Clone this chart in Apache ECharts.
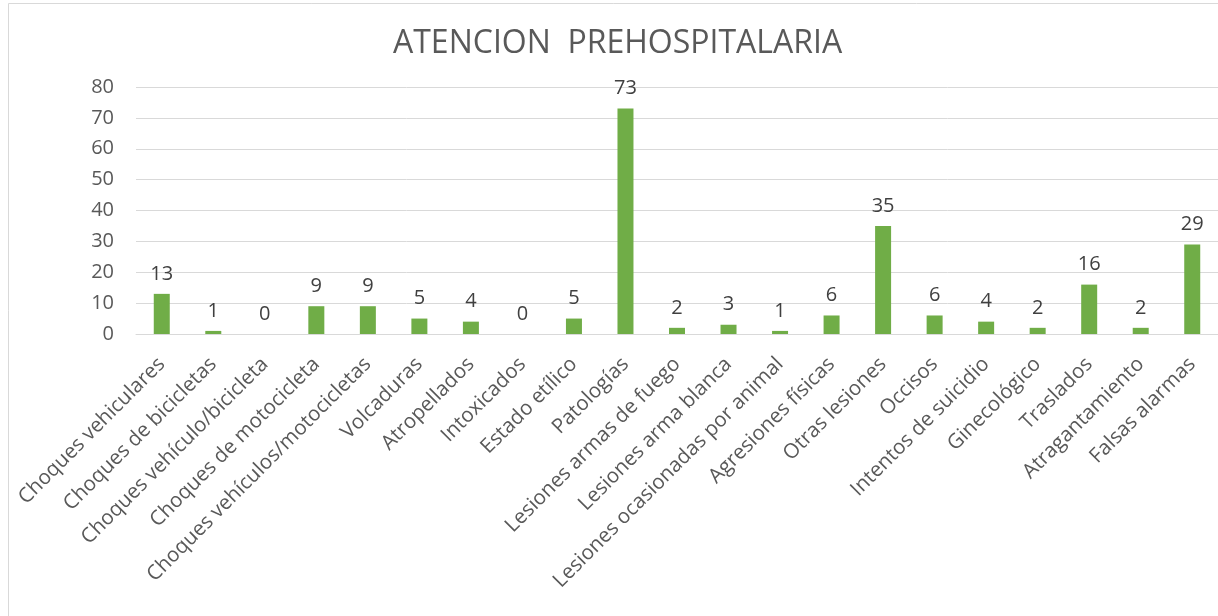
<!DOCTYPE html>
<html>
<head>
<meta charset="utf-8">
<script src="https://cdn.jsdelivr.net/npm/echarts@6/dist/echarts.min.js"></script>
<style>
html,body{margin:0;padding:0;background:#fff;}
#chart{width:1218px;height:616px;}
</style>
</head>
<body>
<div id="chart"></div>
<script>
const titleText = 'ATENCION  PREHOSPITALARIA';
const categories = [
  'Choques vehiculares',
  'Choques de bicicletas',
  'Choques vehículo/bicicleta',
  'Choques de motocicleta',
  'Choques vehículos/motocicletas',
  'Volcaduras',
  'Atropellados',
  'Intoxicados',
  'Estado etílico',
  'Patologías',
  'Lesiones armas de fuego',
  'Lesiones arma blanca',
  'Lesiones ocasionadas por animal',
  'Agresiones físicas',
  'Otras lesiones',
  'Occisos',
  'Intentos de suicidio',
  'Ginecológico',
  'Traslados',
  'Atragantamiento',
  'Falsas alarmas'
];
const values = [13, 1, 0, 9, 9, 5, 4, 0, 5, 73, 2, 3, 1, 6, 35, 6, 4, 2, 16, 2, 29];
const yMin = 0, yMax = 80, yStep = 10;

const FONT = '"Open Sans", "Noto Sans", sans-serif';
const chart = echarts.init(document.getElementById('chart'), null, {renderer: 'canvas'});
chart.setOption({
  animation: false,
  backgroundColor: '#ffffff',
  graphic: [{
    type: 'rect',
    shape: {x: 8.5, y: 3.5, width: 1400, height: 800},
    style: {fill: 'none', stroke: '#d9d9d9', lineWidth: 1},
    silent: true, z: -10
  }],
  title: {
    text: titleText,
    left: 388,
    top: 23,
    textStyle: {fontFamily: FONT, fontSize: 32, fontWeight: 'normal', color: '#595959'}
  },
  grid: {left: 136, right: 0, top: 87, bottom: 282, containLabel: false},
  xAxis: {
    type: 'category',
    data: categories,
    axisLine: {show: true, lineStyle: {color: '#d9d9d9', width: 1}},
    axisTick: {show: false},
    axisLabel: {
      interval: 0,
      rotate: 45,
      margin: 27,
      fontFamily: FONT,
      fontSize: 20.5,
      color: '#595959'
    }
  },
  yAxis: {
    type: 'value',
    min: yMin, max: yMax, interval: yStep,
    axisLine: {show: false},
    axisTick: {show: false},
    splitLine: {lineStyle: {color: '#d9d9d9', width: 1}},
    axisLabel: {margin: 22, fontFamily: FONT, fontSize: 20, color: '#595959'}
  },
  series: [{
    type: 'bar',
    data: values,
    barWidth: 16,
    itemStyle: {color: '#70ad47'},
    label: {
      show: true,
      position: 'top',
      distance: 10,
      fontFamily: FONT,
      fontSize: 20,
      color: '#404040'
    }
  }]
});
</script>
</body>
</html>
